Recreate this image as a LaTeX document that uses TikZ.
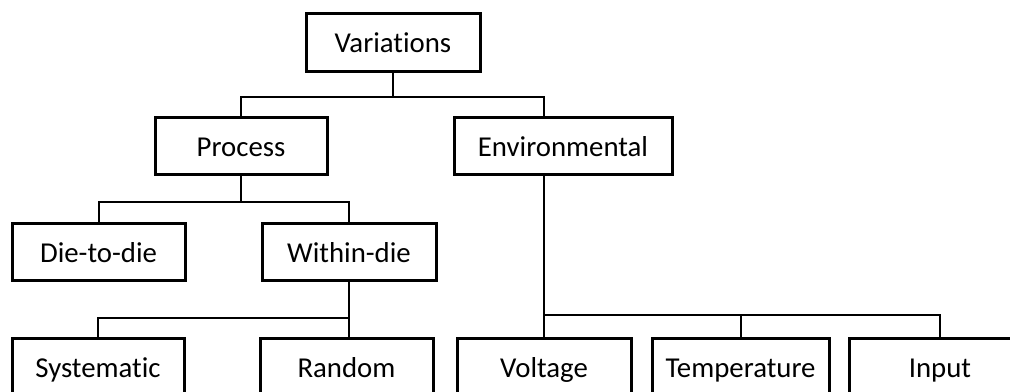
\documentclass[tikz,border=0pt]{standalone}
\usepackage{fontspec}
\setmainfont{Carlito}[Ligatures=NoCommon]
\usetikzlibrary{positioning,calc}
\tikzset{box/.style={draw,line width=1.5pt,minimum height=28.5pt,inner sep=0pt,text height=12pt,text depth=1.2pt,font=\fontsize{14.4}{16}\selectfont}}
\tikzset{link/.style={line width=1pt}}

\begin{document}
\begin{tikzpicture}[x=0.5pt,y=-0.5pt]
  \useasboundingbox (0,0) rectangle (1010,391);
  % Top level
  \node[box,minimum width=87pt,minimum height=29pt] (var) at (393,42) {Variations};
  % Second level
  \node[box,minimum width=86pt] (proc) at (241,145.5) {Process};
  \node[box,minimum width=109pt] (env) at (563,145.5) {Environmental};
  % Process sources
  \node[box,minimum width=86.5pt] (d2d) at (98.5,251.5) {Die-to-die};
  \node[box,minimum width=87pt] (wid) at (349,251.5) {Within-die};
  % Bottom row
  \node[box,minimum width=86pt] (sys) at (98,366.5) {Systematic};
  \node[box,minimum width=86.5pt] (rnd) at (346.5,366.5) {Random};
  \node[box,minimum width=87pt] (volt) at (544,366.5) {Voltage};
  \node[box,minimum width=88.5pt] (temp) at (740.5,366.5) {Temperature};
  \node[box,minimum width=91pt] (inp) at (940,366.5) {Input};

  % Connectors
  \draw[link] (var.south) -- ++(0,24) -| (proc.north);
  \draw[link] (var.south) -- ++(0,24) -| (env.north -| volt.north);
  \draw[link] (proc.south) -- ++(0,26) -| (d2d.north);
  \draw[link] (proc.south) -- ++(0,26) -| (wid.north);
  \draw[link] (wid.south) -- (wid.south |- rnd.north);
  \draw[link] (wid.south) -- ++(0,36) -| (sys.north);
  \draw[link] (env.south -| volt.north) -- (volt.north);
  \draw[link] (volt.north) -- ++(0,-22) -| (temp.north);
  \draw[link] (volt.north) -- ++(0,-22) -| (inp.north);
\end{tikzpicture}
\end{document}
